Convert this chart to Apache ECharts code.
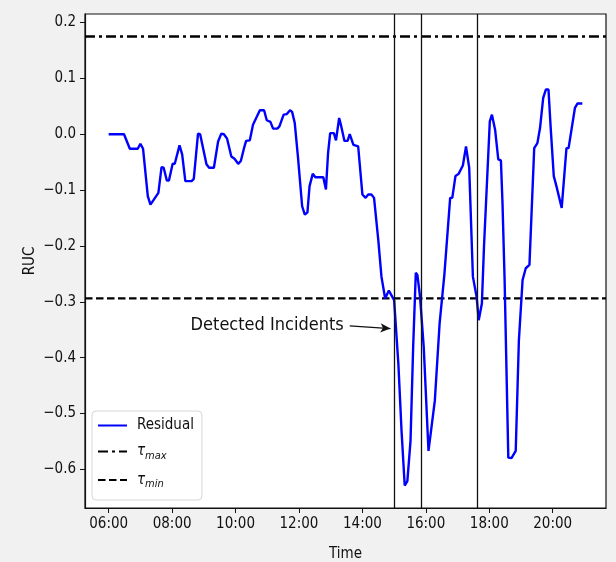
<!DOCTYPE html>
<html><head><meta charset="utf-8">
<script src="https://cdn.jsdelivr.net/npm/echarts@6/dist/echarts.min.js"></script>
<style>html,body{margin:0;padding:0;background:#f1f1f1;overflow:hidden}#c{width:616px;height:562px}</style>
</head><body><div id="c"></div><script>
const times = ["06:00","06:29","06:40","06:55","07:00","07:05","07:14","07:19","07:34","07:40","07:44","07:50","07:54","08:01","08:05","08:14","08:19","08:25","08:37","08:41","08:49","08:53","09:05","09:10","09:19","09:27","09:33","09:38","09:44","09:52","09:58","10:05","10:10","10:16","10:20","10:27","10:33","10:46","10:54","10:59","11:06","11:11","11:19","11:23","11:31","11:37","11:43","11:47","11:52","11:58","12:06","12:11","12:16","12:20","12:26","12:31","12:46","12:51","12:55","12:59","13:06","13:10","13:16","13:20","13:26","13:32","13:36","13:43","13:46","13:52","14:00","14:06","14:11","14:17","14:22","14:30","14:36","14:43","14:50","15:00","15:08","15:14","15:20","15:25","15:31","15:36","15:41","15:44","15:49","15:56","16:05","16:17","16:26","16:35","16:46","16:50","16:56","17:02","17:10","17:16","17:22","17:29","17:36","17:40","17:46","17:50","18:01","18:05","18:11","18:17","18:22","18:25","18:29","18:36","18:42","18:50","18:56","19:03","19:09","19:16","19:25","19:31","19:36","19:42","19:47","19:52","19:56","20:02","20:07","20:17","20:26","20:30","20:42","20:47","20:56"];
const residual = [0.0,0.0,-0.026,-0.026,-0.017,-0.026,-0.111,-0.126,-0.105,-0.059,-0.060,-0.083,-0.083,-0.053,-0.053,-0.020,-0.036,-0.084,-0.084,-0.080,0.001,0.0,-0.054,-0.060,-0.060,-0.013,0.001,0.0,-0.008,-0.040,-0.044,-0.053,-0.048,-0.025,-0.012,-0.011,0.017,0.043,0.043,0.025,0.022,0.010,0.010,0.014,0.035,0.036,0.043,0.040,0.020,-0.040,-0.129,-0.144,-0.140,-0.093,-0.071,-0.077,-0.077,-0.099,-0.034,0.002,0.002,-0.011,0.029,0.014,-0.012,-0.012,0.000,-0.019,-0.022,-0.022,-0.108,-0.114,-0.108,-0.108,-0.114,-0.189,-0.255,-0.294,-0.280,-0.297,-0.411,-0.531,-0.629,-0.621,-0.549,-0.381,-0.248,-0.252,-0.291,-0.381,-0.567,-0.477,-0.339,-0.252,-0.114,-0.114,-0.075,-0.071,-0.056,-0.022,-0.060,-0.255,-0.291,-0.333,-0.303,-0.201,0.023,0.035,0.008,-0.045,-0.047,-0.123,-0.261,-0.579,-0.580,-0.567,-0.369,-0.261,-0.240,-0.234,-0.025,-0.016,0.011,0.065,0.080,0.080,0.014,-0.075,-0.093,-0.132,-0.025,-0.025,0.047,0.055,0.055];
const tauMax = 0.175;
const tauMin = -0.294;
const incidentTimes = ["15:00","15:51","17:37"];
const xTickLabels = ["06:00","08:00","10:00","12:00","14:00","16:00","18:00","20:00"];
const yTickValues = [-0.6,-0.5,-0.4,-0.3,-0.2,-0.1,0.0,0.1,0.2];
const annotationText = "Detected Incidents";
const arrowFrom = ["13:36", -0.343];
const arrowTo = ["14:53", -0.348];
const seriesNames = ["Residual", "τmax", "τmin"];

const toMin = s => { const p = s.split(":"); return (+p[0]) * 60 + (+p[1]); };
const FONT = "'DejaVu Sans Condensed', 'DejaVu Sans', sans-serif";
const xs = times.map(toMin);
const xSpan = xs[xs.length - 1] - xs[0];
const xMin = xs[0] - 0.05 * xSpan, xMax = xs[xs.length - 1] + 0.05 * xSpan;
const yLo = Math.min(...residual), yHi = tauMax;
const ySpan = yHi - yLo;
const yMin = yLo - 0.05 * ySpan, yMax = yHi + 0.05 * ySpan;

const chart = echarts.init(document.getElementById('c'));
chart.setOption({
  animation: false,
  backgroundColor: '#f1f1f1',
  textStyle: { fontFamily: FONT },
  grid: { left: 85, right: 10, top: 14, bottom: 54, outerBoundsMode: 'none', containLabel: false, show: true, backgroundColor: '#fff', borderColor: '#111', borderWidth: 1.2 },
  xAxis: {
    type: 'value', min: xMin, max: xMax,
    name: 'Time', nameLocation: 'middle', nameGap: 39, nameMoveOverlap: false,
    nameTextStyle: { fontSize: 15, color: '#111', fontFamily: FONT },
    axisLine: { show: true, onZero: false, lineStyle: { color: '#111', width: 1.2 } },
    axisTick: { show: true, length: 5, lineStyle: { color: '#111', width: 1 }, customValues: xTickLabels.map(toMin) },
    axisLabel: { fontSize: 15, color: '#111', margin: 9, fontFamily: FONT, customValues: xTickLabels.map(toMin),
      formatter: v => { const h = Math.floor(v / 60), m = Math.round(v % 60); return String(h).padStart(2, '0') + ':' + String(m).padStart(2, '0'); } },
    splitLine: { show: false }
  },
  yAxis: {
    type: 'value', min: yMin, max: yMax,
    name: 'RUC', nameLocation: 'middle', nameGap: 47, nameRotate: 90, nameMoveOverlap: false,
    nameTextStyle: { fontSize: 15, color: '#111', fontFamily: FONT },
    axisLine: { show: true, onZero: false, lineStyle: { color: '#111', width: 1.2 } },
    axisTick: { show: true, length: 5, lineStyle: { color: '#111', width: 1 }, customValues: yTickValues },
    axisLabel: { fontSize: 15, color: '#111', margin: 9, fontFamily: FONT, customValues: yTickValues,
      formatter: v => v.toFixed(1).replace('-', '\u2212').replace('\u22120.0', '0.0') },
    splitLine: { show: false }
  },
  legend: {
    data: seriesNames, orient: 'vertical', left: 92, top: 411,
    backgroundColor: '#fff', borderColor: '#d6d6d6', borderWidth: 1, borderRadius: 4,
    padding: [7, 8, 10, 5], itemWidth: 29, itemHeight: 14, itemGap: 11,
    itemStyle: { opacity: 0, borderWidth: 0 },
    textStyle: { fontSize: 15, color: '#111', fontFamily: FONT, padding: [0, 0, 0, 5],
      rich: {
        t: { fontSize: 15, fontStyle: 'italic', color: '#111', fontFamily: FONT, lineHeight: 20, verticalAlign: 'middle' },
        s: { fontSize: 11, fontStyle: 'italic', color: '#111', fontFamily: FONT, lineHeight: 11, verticalAlign: 'bottom' }
      } },
    formatter: n => n === seriesNames[1] ? '{t|τ}{s|max}' : (n === seriesNames[2] ? '{t|τ}{s|min}' : n)
  },
  series: [
    {
      name: seriesNames[0], type: 'line', symbol: 'none', showSymbol: false, z: 3,
      data: xs.map((x, i) => [x, residual[i]]),
      lineStyle: { color: '#0000ff', width: 2.4 }, itemStyle: { color: '#0000ff' },
      emphasis: { disabled: true }
    },
    {
      name: seriesNames[1], type: 'line', symbol: 'none', showSymbol: false, z: 2,
      data: [[xMin, tauMax], [xMax, tauMax]],
      lineStyle: { color: '#000', width: 2.4, type: [10, 4, 3, 4] }, itemStyle: { color: '#000' },
      emphasis: { disabled: true }
    },
    {
      name: seriesNames[2], type: 'line', symbol: 'none', showSymbol: false, z: 2,
      data: [[xMin, tauMin], [xMax, tauMin]],
      lineStyle: { color: '#000', width: 2.4, type: [7.5, 3.5] }, itemStyle: { color: '#000' },
      emphasis: { disabled: true },
      markLine: {
        silent: true, symbol: 'none', animation: false,
        lineStyle: { color: '#111', width: 1.3, type: 'solid' },
        label: { show: false },
        data: incidentTimes.map(t => ({ xAxis: toMin(t) }))
      }
    },
    {
      name: 'annotation', type: 'line', symbol: 'none', data: [], z: 4,
      markLine: {
        silent: true, symbol: ['none', 'arrow'], symbolSize: [7, 10], animation: false,
        lineStyle: { color: '#111', width: 1.3, type: 'solid' },
        label: { show: true, position: 'start', distance: 6, formatter: annotationText, fontSize: 18, color: '#111', fontFamily: FONT },
        data: [[{ coord: [toMin(arrowFrom[0]), arrowFrom[1]] }, { coord: [toMin(arrowTo[0]), arrowTo[1]] }]]
      }
    }
  ]
});
</script></body></html>
